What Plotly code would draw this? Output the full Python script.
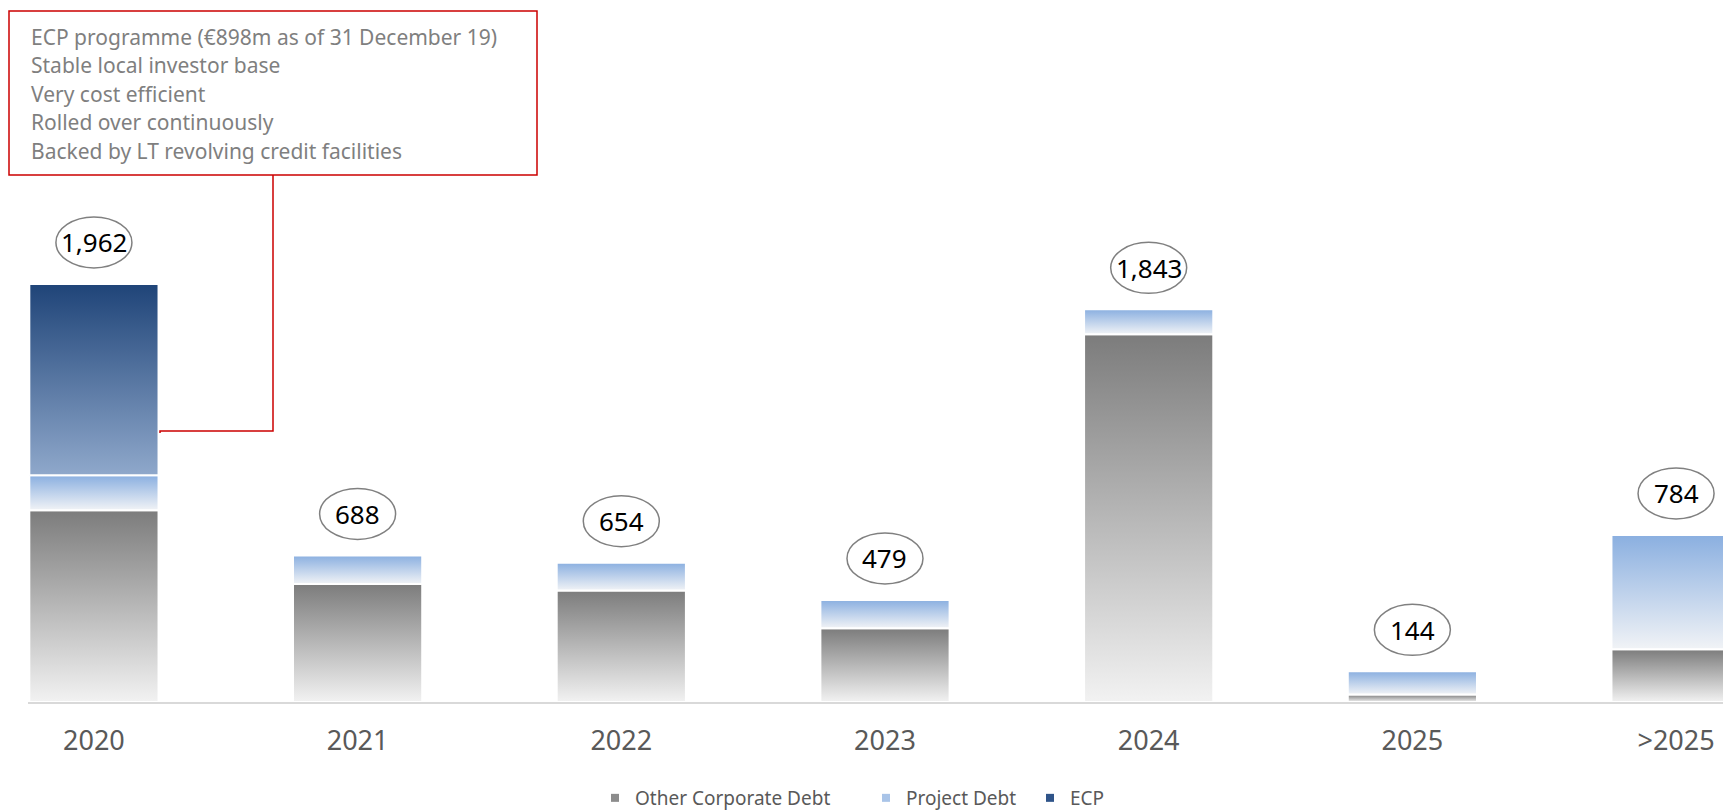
import plotly.graph_objects as go

# ---- data (EUR m) ----
categories = ["2020", "2021", "2022", "2023", "2024", "2025", ">2025"]
other_corporate_debt = [900, 554, 523, 346, 1726, 35, 247]
project_debt = [164, 134, 131, 133, 117, 109, 537]
ecp = [898, 0, 0, 0, 0, 0, 0]
totals = [1962, 688, 654, 479, 1843, 144, 784]

callout_lines = [
    "ECP programme (€898m as of 31 December 19)",
    "Stable local investor base",
    "Very cost efficient",
    "Rolled over continuously",
    "Backed by LT revolving credit facilities",
]

# ---- layout geometry ----
W, H = 1723, 811
ML, MR, MT, MB = 28, 0, 200, 109
PW, PH = W - ML - MR, H - MT - MB
X_RANGE = [-0.25, 6.178]
Y_RANGE = [0, 2356]
BAR_WIDTH = 0.49
FONT = "Noto Sans"

# name, values, gradient (bottom -> top), legend swatch, legend id, legend left edge (px)
series = [
    ("Other Corporate Debt", other_corporate_debt, ["#f2f2f2", "#7c7c7c"], "#8c8c8c", "legend", 595),
    ("Project Debt", project_debt, ["#f1f3f6", "#8aafe0"], "#a9c4e8", "legend2", 866),
    ("ECP", ecp, ["#8fa8cb", "#1f4478"], "#2f5489", "legend3", 1030),
]


def px_x(px):
    return (px - ML) / PW


def px_y(py):
    return (H - MB - py) / PH


fig = go.Figure()

# stacked segments, each drawn as a filled polygon with a vertical gradient
bases = [0] * len(categories)
for name, values, scale, _, _, _ in series:
    for i, v in enumerate(values):
        if v <= 0:
            continue
        x0, x1 = i - BAR_WIDTH / 2, i + BAR_WIDTH / 2
        y0, y1 = bases[i], bases[i] + v
        fig.add_trace(go.Scatter(
            x=[x0, x1, x1, x0, x0],
            y=[y0, y0, y1, y1, y0],
            mode="lines",
            fill="toself",
            fillgradient=dict(type="vertical",
                              colorscale=[[0, scale[0]], [1, scale[1]]]),
            line=dict(color="white", width=2),
            name=name,
            legendgroup=name,
            showlegend=False,
            hoveron="fills",
            text=f"{name} {categories[i]}: {v:,}",
            hoverinfo="text",
        ))
        bases[i] += v

# legend entries, one small legend per series
legend_layouts = {}
for name, _, _, swatch, legend_id, left_px in series:
    fig.add_trace(go.Scatter(
        x=[None], y=[None], mode="markers", name=name, legendgroup=name,
        legend=legend_id,
        marker=dict(symbol="square", size=8, color=swatch),
    ))
    legend_layouts[legend_id] = dict(
        orientation="h", xref="paper", x=px_x(left_px), xanchor="left",
        yref="container", y=(H - 798) / H, yanchor="middle",
        font=dict(family=FONT, size=19, color="#595959"),
        itemwidth=30, bgcolor="rgba(0,0,0,0)",
    )

shapes = []
annotations = []

# total labels in ellipses above each bar
for i, t in enumerate(totals):
    shapes.append(dict(
        type="circle", xref="x", yref="y",
        xsizemode="pixel", ysizemode="pixel",
        xanchor=i, yanchor=t,
        x0=-38, x1=38, y0=16, y1=67,
        line=dict(color="#808080", width=1.5),
        fillcolor="white", layer="above",
    ))
    annotations.append(dict(
        x=i, y=t, xref="x", yref="y", yshift=41.5,
        text=f"{t:,}", showarrow=False,
        font=dict(family=FONT, size=26, color="#000000"),
    ))

# callout box with connector to the ECP segment
RED = "#cc0000"
shapes.append(dict(
    type="rect", xref="paper", yref="paper",
    x0=px_x(9), x1=px_x(537), y0=px_y(11), y1=px_y(175),
    line=dict(color=RED, width=1.5), fillcolor="rgba(0,0,0,0)",
))
shapes.append(dict(
    type="path", xref="paper", yref="paper",
    path=(f"M {px_x(273)} {px_y(175)} L {px_x(273)} {px_y(431)} "
          f"L {px_x(160)} {px_y(431)} L {px_x(160)} {px_y(433)}"),
    line=dict(color=RED, width=1.5),
))
for k, line in enumerate(callout_lines):
    annotations.append(dict(
        xref="paper", yref="paper", x=px_x(29), y=px_y(36.5 + 28.6 * k),
        xanchor="left", yanchor="middle", align="left", showarrow=False,
        text=line,
        font=dict(family=FONT, size=21, color="#7f7f7f"),
    ))

fig.update_layout(
    width=W, height=H,
    margin=dict(l=ML, r=MR, t=MT, b=MB, pad=0),
    paper_bgcolor="white", plot_bgcolor="white",
    font=dict(family=FONT, color="#595959"),
    showlegend=True,
    xaxis=dict(
        range=X_RANGE, tickmode="array",
        tickvals=list(range(len(categories))), ticktext=categories,
        showgrid=False, zeroline=False,
        showline=True, linecolor="#d9d9d9", linewidth=2,
        ticks="", ticklabelstandoff=14, automargin=False,
        tickfont=dict(family=FONT, size=27, color="#595959"),
        fixedrange=True,
    ),
    yaxis=dict(range=Y_RANGE, visible=False, fixedrange=True),
    shapes=shapes,
    annotations=annotations,
    **legend_layouts,
)

fig.write_html("out.html")
